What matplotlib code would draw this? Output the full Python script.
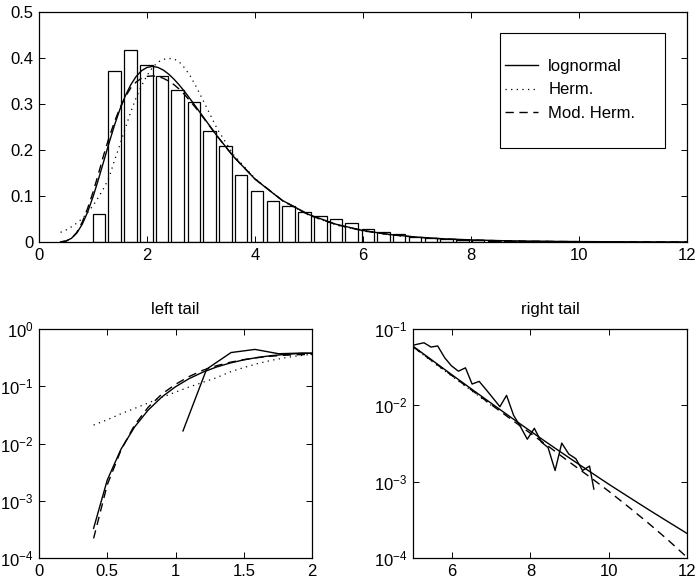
import matplotlib
matplotlib.use("Agg")
import matplotlib.pyplot as plt
from matplotlib.ticker import NullLocator, FixedLocator
from matplotlib.patches import Rectangle

plt.rcParams['font.family'] = ['Liberation Sans', 'DejaVu Sans']
plt.rcParams['mathtext.default'] = 'regular'
plt.rcParams['font.size'] = 12

# ---------------- data ----------------
bar_centers = [1.11, 1.40, 1.70, 1.99, 2.28, 2.57, 2.87, 3.16, 3.45, 3.74, 4.04, 4.33,
               4.62, 4.92, 5.21, 5.50, 5.79, 6.09, 6.38, 6.67, 6.96, 7.26, 7.55, 7.84,
               8.13, 8.43, 8.72, 9.01, 9.31, 9.60]
bar_heights = [0.060, 0.371, 0.417, 0.384, 0.360, 0.330, 0.305, 0.242, 0.209, 0.146,
               0.110, 0.090, 0.078, 0.065, 0.057, 0.051, 0.042, 0.028, 0.021, 0.018,
               0.011, 0.009, 0.007, 0.0045, 0.0045, 0.003, 0.0025, 0.002, 0.0017, 0.001]

x_fit = [0.4, 0.5, 0.6, 0.7, 0.8, 0.9, 1.0, 1.1, 1.2, 1.3, 1.4, 1.5, 1.6, 1.7, 1.8, 1.9,
         2.0, 2.1, 2.2, 2.3, 2.4, 2.5, 2.6, 2.7, 2.8, 2.9, 3.0, 3.3, 3.6, 4.0, 4.5,
         5.0, 5.5, 6.0, 6.5, 7.0, 7.5, 8.0, 8.5, 9.0, 9.5, 10.0, 10.5, 11.0, 11.5, 12.0]
lognormal = [3.3e-4, 2.3e-3, 7.9e-3, 0.0194, 0.0384, 0.0650, 0.098, 0.136, 0.176, 0.2165,
             0.2546, 0.2888, 0.3181, 0.3419, 0.3600, 0.3725, 0.3795, 0.3817, 0.3796, 0.3739,
             0.3651, 0.3539, 0.3409, 0.3264, 0.3109, 0.2949, 0.2786, 0.2302, 0.1861, 0.1367,
             0.0908, 0.0595, 0.0386, 0.0250, 0.01628, 0.01063, 0.006964, 0.004595, 0.003049,
             0.002038, 0.001373, 9.27e-4, 6.35e-4, 4.36e-4, 3.02e-4, 2.1e-4]
mod_herm = [2.2e-4, 1.9e-3, 7.6e-3, 0.021, 0.043, 0.073, 0.108, 0.148, 0.190, 0.228,
            0.262, 0.292, 0.316, 0.335, 0.348, 0.356, 0.360, 0.361, 0.360, 0.356,
            0.350, 0.342, 0.332, 0.320, 0.306, 0.292, 0.277, 0.230, 0.186, 0.137,
            0.091, 0.0585, 0.0378, 0.0244, 0.0158, 0.0102, 0.0066, 0.0043, 0.0028,
            0.00180, 0.00117, 0.00075, 0.00047, 0.00029, 0.000175, 0.000102]
x_herm = [0.4, 0.5, 0.6, 0.7, 0.8, 0.9, 1.0, 1.1, 1.2, 1.3, 1.4, 1.5, 1.6, 1.7, 1.8, 1.9,
          2.0, 2.1, 2.2, 2.3, 2.4, 2.5, 2.6, 2.7, 2.8, 2.9, 3.0, 3.3, 3.6, 4.0, 4.5,
          5.0, 5.5, 6.0, 6.5, 7.0]
herm = [0.021, 0.026, 0.033, 0.041, 0.051, 0.064, 0.079, 0.097, 0.117, 0.141,
        0.178, 0.212, 0.248, 0.283, 0.314, 0.340, 0.362, 0.379, 0.391, 0.397,
        0.399, 0.398, 0.391, 0.378, 0.361, 0.340, 0.317, 0.246, 0.190, 0.138,
        0.090, 0.058, 0.037, 0.024, 0.0155, 0.0100]

left_hist_x = [1.055, 1.228, 1.407, 1.582, 1.755, 1.93, 2.10]
left_hist_y = [0.0166, 0.199, 0.388, 0.44, 0.37, 0.38, 0.37]

right_hist_x = [4.93, 5.10, 5.28, 5.46, 5.63, 5.81, 5.98, 6.16, 6.34, 6.51, 6.69, 6.87,
                7.04, 7.22, 7.39, 7.57, 7.75, 7.92, 8.10, 8.28, 8.45, 8.63, 8.80, 8.98,
                9.16, 9.33, 9.51, 9.62]
right_hist_y = [0.060, 0.063, 0.066, 0.058, 0.060, 0.042, 0.033, 0.028, 0.031, 0.019,
                0.0206, 0.016, 0.0125, 0.0096, 0.0135, 0.0074, 0.0052, 0.0036, 0.0050,
                0.0033, 0.0028, 0.0014, 0.0032, 0.0023, 0.0020, 0.0014, 0.0016, 0.0008]

legend_labels = ['lognormal', 'Herm.', 'Mod. Herm.']

# ---------------- figure ----------------
W, H = 698, 585
fig = plt.figure(figsize=(W / 100, H / 100), dpi=100)

DOT = (0, (1, 3.5))
DASH = (0, (6, 4))


def px_axes(x0, y0, x1, y1):
    return fig.add_axes([x0 / W, 1 - y1 / H, (x1 - x0) / W, (y1 - y0) / H])


def style(ax):
    ax.tick_params(direction='in', top=True, right=True, length=4, width=0.7,
                   labelsize=12, pad=4, colors='black')
    for s in ax.spines.values():
        s.set_linewidth(0.9)


ax1 = px_axes(39, 12, 687, 242)
ax1.bar(bar_centers, bar_heights, width=0.234, facecolor='white', edgecolor='black',
        linewidth=0.9, zorder=1)
l1, = ax1.plot(x_fit, lognormal, color='black', lw=1.0, ls='-', zorder=3)
l2, = ax1.plot(x_herm, herm, color='black', lw=0.9, ls=DOT, zorder=3)
l3, = ax1.plot(x_fit, mod_herm, color='black', lw=1.0, ls=DASH, zorder=3)
ax1.set_xlim(0, 12)
ax1.set_ylim(0, 0.5)
ax1.set_xticks([0, 2, 4, 6, 8, 10, 12])
ax1.set_yticks([0, 0.1, 0.2, 0.3, 0.4, 0.5])
ax1.set_yticklabels(['0', '0.1', '0.2', '0.3', '0.4', '0.5'])
style(ax1)

# legend box (MATLAB style)
fig.patches.append(Rectangle((500 / W, 1 - 148 / H), 165 / W, 115 / H,
                             transform=fig.transFigure, facecolor='white',
                             edgecolor='black', linewidth=0.8, zorder=5))
leg = fig.legend([l1, l2, l3], legend_labels, loc='center left',
                 bbox_to_anchor=(505 / W, 1 - 90 / H), frameon=False,
                 handlelength=2.0, handletextpad=0.6, labelspacing=0.5,
                 borderpad=0, borderaxespad=0, fontsize=12)
leg.set_zorder(6)

# left tail
ax2 = px_axes(39, 329, 312, 558)
ax2.semilogy(x_fit, lognormal, color='black', lw=1.0, ls='-')
ax2.semilogy(x_herm, herm, color='black', lw=0.9, ls=DOT)
ax2.semilogy(x_fit, mod_herm, color='black', lw=1.0, ls=DASH)
ax2.semilogy(left_hist_x, left_hist_y, color='black', lw=1.0)
ax2.set_xlim(0, 2)
ax2.set_ylim(1e-4, 1)
ax2.set_xticks([0, 0.5, 1, 1.5, 2])
ax2.set_xticklabels(['0', '0.5', '1', '1.5', '2'])
ax2.yaxis.set_major_locator(FixedLocator([1e-4, 1e-3, 1e-2, 1e-1, 1]))
ax2.yaxis.set_minor_locator(NullLocator())
ax2.set_title('left tail', fontsize=12, pad=11)
style(ax2)

# right tail
ax3 = px_axes(413, 329, 687, 558)
ax3.semilogy(x_fit, lognormal, color='black', lw=1.0, ls='-')
ax3.semilogy(x_herm, herm, color='black', lw=0.9, ls=DOT)
ax3.semilogy(x_fit, mod_herm, color='black', lw=1.0, ls=DASH)
ax3.semilogy(right_hist_x, right_hist_y, color='black', lw=1.0)
ax3.set_xlim(5, 12)
ax3.set_ylim(1e-4, 1e-1)
ax3.set_xticks([6, 8, 10, 12])
ax3.yaxis.set_major_locator(FixedLocator([1e-4, 1e-3, 1e-2, 1e-1]))
ax3.yaxis.set_minor_locator(NullLocator())
ax3.set_title('right tail', fontsize=12, pad=11)
style(ax3)

fig.savefig('out.png', dpi=100)
